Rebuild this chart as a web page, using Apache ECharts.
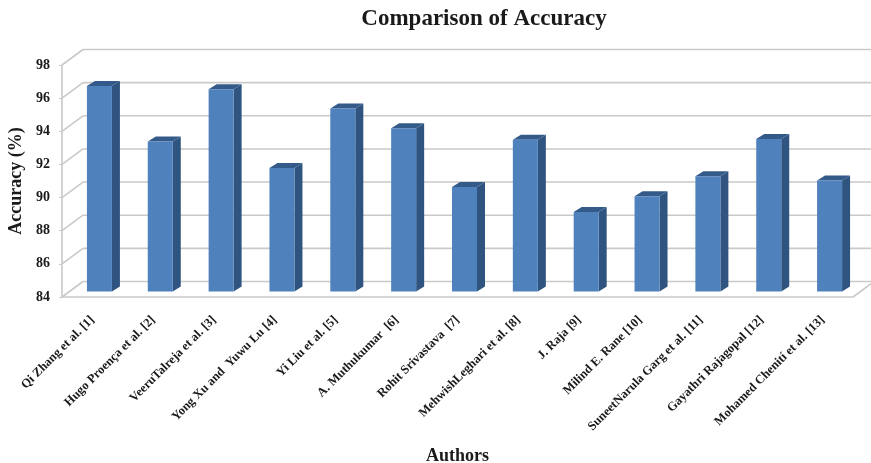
<!DOCTYPE html>
<html>
<head>
<meta charset="utf-8">
<script src="https://cdn.jsdelivr.net/npm/echarts@6/dist/echarts.min.js"></script>
<style>
  html, body { margin: 0; padding: 0; background: #fff; }
  #main { width: 871px; height: 463px; }
</style>
</head>
<body>
<div id="main"></div>
<script>
const categories = ['Qi Zhang et al. [1]', 'Hugo Proença et al. [2]', 'VeeruTalreja et al. [3]', 'Yong Xu and  Yuwu Lu [4]', 'Yi Liu et al. [5]', 'A. Muthukumar  [6]', 'Rohit Srivastava  [7]', 'MehwishLeghari et al. [8]', 'J. Raja [9]', 'Milind E. Rane [10]', 'SuneetNarula Garg et al. [11]', 'Gayathri Rajagopal [12]', 'Mohamed Chenití et al. [13]']
const accuracy = [96.4, 93.05, 96.2, 91.45, 95.05, 93.85, 90.3, 93.15, 88.8, 89.75, 90.95, 93.2, 90.7]
const yTicks = [84, 86, 88, 90, 92, 94, 96, 98]

const font = '"Liberation Serif", serif'
// 假3D：后墙相对前面的偏移
const wallDx = 21
const wallDy = -15.5
const barDx = 7
const barDy = -5.5
const sideDx = 8
const sideDy = -5

const myChart = echarts.init(document.getElementById('main'))

function renderWall(params, api) {
  const p = api.coord([0, api.value(0)])
  const x0 = params.coordSys.x
  const x1 = x0 + params.coordSys.width
  const line = (a, b, c, d) => ({
    type: 'line',
    shape: { x1: a, y1: b, x2: c, y2: d },
    style: { stroke: '#c9c9c9', lineWidth: 1.6 }
  })
  const children = [
    line(x0, p[1], x0 + wallDx, p[1] + wallDy),
    line(x0 + wallDx, p[1] + wallDy, 871, p[1] + wallDy)
  ]
  if (api.value(0) === yTicks[0]) {
    children.push(line(x1, p[1], x1 + wallDx, p[1] + wallDy))
  }
  return { type: 'group', children }
}

function renderBar(params, api) {
  const p = api.coord([api.value(0), api.value(1)])
  const b = api.coord([api.value(0), yTicks[0]])
  const w = 25
  const l = p[0] + barDx - w / 2
  const r = l + w
  const t = p[1] + barDy
  const f = b[1] + barDy
  return {
    type: 'group',
    children: [
      {
        type: 'polygon',
        shape: { points: [[r, t], [r + sideDx, t + sideDy], [r + sideDx, f + sideDy], [r, f]] },
        style: { fill: '#2f5480' }
      },
      {
        type: 'polygon',
        shape: { points: [[l, t], [l + sideDx, t + sideDy], [r + sideDx, t + sideDy], [r, t]] },
        style: { fill: '#345a8a' }
      },
      {
        type: 'rect',
        shape: { x: l, y: t, width: w, height: f - t },
        style: { fill: '#4f81bd' }
      }
    ]
  }
}

const option = {
  animation: false,
  title: {
    text: 'Comparison of Accuracy',
    left: 479,
    top: 3,
    textAlign: 'center',
    textStyle: { fontFamily: font, fontSize: 23, fontWeight: 'bold', color: '#1a1a1a' }
  },
  grid: { left: 62, right: 18, top: 65, bottom: 166, outerBoundsMode: 'none' },
  xAxis: {
    type: 'category',
    data: categories,
    name: 'Authors',
    nameLocation: 'middle',
    nameGap: 150,
    nameTextStyle: { fontFamily: font, fontSize: 18, fontWeight: 'bold', color: '#1a1a1a' },
    axisTick: { show: false },
    axisLine: { lineStyle: { color: '#c9c9c9', width: 1.6 } },
    axisLabel: {
      interval: 0,
      rotate: 45,
      margin: 21,
      fontFamily: font,
      fontSize: 12.5,
      fontWeight: 'bold',
      color: '#1a1a1a'
    }
  },
  yAxis: {
    type: 'value',
    min: 84,
    max: 98,
    interval: 2,
    name: 'Accuracy (%)',
    nameLocation: 'middle',
    nameGap: 37,
    nameTextStyle: { fontFamily: font, fontSize: 18, fontWeight: 'bold', color: '#1a1a1a' },
    splitLine: { show: false },
    axisTick: { show: true, length: 3, lineStyle: { color: '#c9c9c9' } },
    axisLine: { show: true, lineStyle: { color: '#c9c9c9', width: 1.6 } },
    axisLabel: { margin: 12, fontFamily: font, fontSize: 14, fontWeight: 'bold', color: '#1a1a1a' }
  },
  series: [
    {
      name: 'walls',
      type: 'custom',
      coordinateSystem: 'cartesian2d',
      renderItem: renderWall,
      encode: { y: 0 },
      data: yTicks.map(v => [v]),
      z: 1,
      silent: true
    },
    {
      name: 'Accuracy',
      type: 'custom',
      coordinateSystem: 'cartesian2d',
      renderItem: renderBar,
      encode: { x: 0, y: 1 },
      data: accuracy.map((v, i) => [i, v]),
      z: 2
    }
  ]
}
myChart.setOption(option)
window.addEventListener('resize', function() {
  myChart.resize()
})
</script>
</body>
</html>
